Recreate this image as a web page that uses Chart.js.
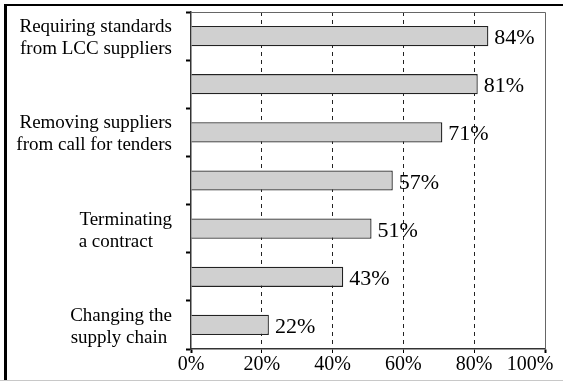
<!DOCTYPE html>
<html>
<head>
<meta charset="utf-8">
<script src="https://cdn.jsdelivr.net/npm/chart.js@4"></script>
<style>
  html, body { margin: 0; padding: 0; background: #fff; }
  #wrap { position: relative; width: 563px; height: 381px; overflow: hidden; }
  #frame { position: absolute; left: 4px; top: 4px; right: -10px; bottom: -10px;
           border-top: 2px solid #000; border-left: 3px solid #000; }
  #base { position: absolute; left: 0; right: 0; top: 380px; height: 1px; background: #c8c8c8; }
  #c { position: absolute; left: 0; top: 0; }
</style>
</head>
<body>
<div id="wrap">
  <div id="frame"></div>
  <div id="base"></div>
  <canvas id="c" width="563" height="381"></canvas>
</div>
<script>
// Measures taken against low-cost-country suppliers (share of respondents)
const categories = [
  ['Requiring standards', 'from LCC suppliers'],
  '',
  ['Removing suppliers', 'from call for tenders'],
  '',
  ['Terminating', 'a contract    '],
  '',
  ['Changing the', 'supply chain ']
];
const shares = [84, 81, 71, 57, 51, 43, 22];
const xTicks = [0, 20, 40, 60, 80, 100];

const SERIF = '"Liberation Serif", "Times New Roman", serif';

// Value labels to the right of each bar
const valueLabels = {
  id: 'valueLabels',
  afterDatasetsDraw(chart) {
    const ctx = chart.ctx;
    const meta = chart.getDatasetMeta(0);
    const data = chart.data.datasets[0].data;
    ctx.save();
    ctx.setLineDash([]);
    ctx.font = '22px ' + SERIF;
    ctx.fillStyle = '#000';
    ctx.textAlign = 'left';
    ctx.textBaseline = 'alphabetic';
    meta.data.forEach((bar, i) => {
      ctx.fillText(data[i] + '%', bar.x + 6, bar.y + 8);
    });
    ctx.restore();
  }
};

// Thin frame on the top and right of the plot area
const plotFrame = {
  id: 'plotFrame',
  beforeDatasetsDraw(chart) {
    const { ctx, chartArea: a } = chart;
    ctx.save();
    ctx.setLineDash([]);
    ctx.strokeStyle = '#666';
    ctx.lineWidth = 1;
    ctx.beginPath();
    ctx.moveTo(a.left, a.top + 0.5);
    ctx.lineTo(a.right + 0.5, a.top + 0.5);
    ctx.lineTo(a.right + 0.5, a.bottom);
    ctx.stroke();
    ctx.restore();
  }
};

new Chart(document.getElementById('c'), {
  type: 'bar',
  data: {
    labels: categories,
    datasets: [{
      data: shares,
      backgroundColor: '#d0d0d0',
      borderColor: '#222',
      borderWidth: 1.3,
      barPercentage: 0.42,
      categoryPercentage: 1
    }]
  },
  options: {
    indexAxis: 'y',
    responsive: false,
    animation: false,
    layout: { padding: { top: 12, right: 18, left: 0, bottom: 0 } },
    plugins: { legend: { display: false }, tooltip: { enabled: false } },
    scales: {
      x: {
        min: 0, max: 100,
        afterBuildTicks(scale) { scale.ticks = xTicks.map(v => ({ value: v })); },
        afterFit(scale) { scale.height = 32; scale.paddingRight = 0; },
        ticks: {
          color: '#000',
          padding: 2,
          autoSkip: false,
          maxRotation: 0,
          minRotation: 0,
          font: { family: SERIF, size: 20, lineHeight: 1 },
          callback: v => v === 100 ? '100%      ' : v + '%'
        },
        grid: {
          color: ctx => (ctx.tick && (ctx.tick.value === 0 || ctx.tick.value === 100)) ? 'rgba(0,0,0,0)' : '#222',
          lineWidth: 1,
          tickLength: 4,
          tickColor: '#000',
          tickWidth: ctx => (ctx.tick && (ctx.tick.value === 0 || ctx.tick.value === 100)) ? 2 : 1,
          tickBorderDash: []
        },
        border: { display: true, color: '#333', width: 1.5, dash: [4, 4] }
      },
      y: {
        afterFit(scale) { scale.width = 191; scale.paddingTop = 0; scale.paddingBottom = 0; },
        ticks: {
          color: '#000',
          padding: 14,
          labelOffset: 2,
          autoSkip: false,
          font: { family: SERIF, size: 19, lineHeight: 1.16 }
        },
        grid: {
          offset: true,
          drawOnChartArea: false,
          tickLength: 5,
          tickColor: '#000',
          tickWidth: 2
        },
        border: { display: true, color: '#333', width: 1.5 }
      }
    }
  },
  plugins: [plotFrame, valueLabels]
});
</script>
</body>
</html>
